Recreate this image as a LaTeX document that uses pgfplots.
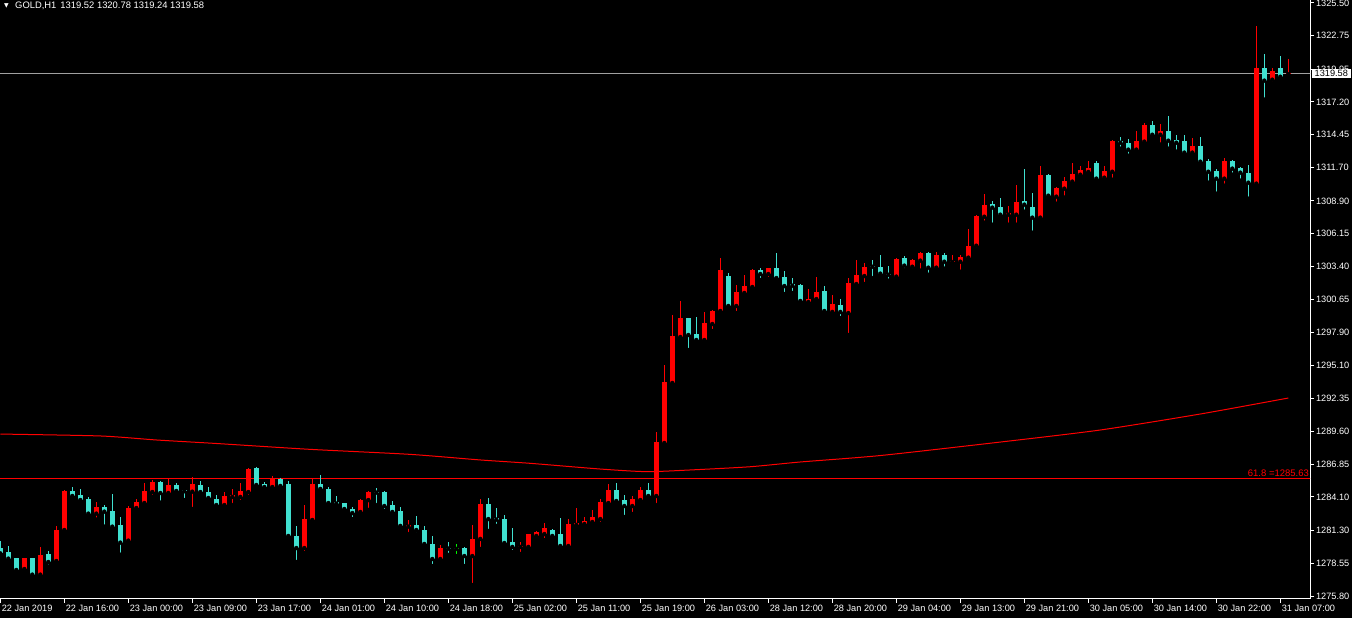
\documentclass[border=0pt]{standalone}
\usepackage{pgfplots}
\pgfplotsset{compat=1.18}
\usepackage{pgfplotstable}
\usepackage{fontspec}
\setmainfont{Liberation Sans}
\newfontfamily\symfont{DejaVu Sans}
\definecolor{bull}{RGB}{255,0,0}
\definecolor{bear}{RGB}{64,224,208}
\definecolor{doji}{RGB}{0,255,0}
\definecolor{pline}{RGB}{160,160,160}

% GOLD H1 candles: i open high low close
\pgfplotstableread{
i o h l c
0 1279.85 1280.41 1279.29 1279.37
1 1279.49 1279.99 1278.87 1278.93
2 1278.98 1278.98 1277.92 1277.98
3 1278.06 1278.98 1277.84 1278.98
4 1278.98 1278.98 1277.50 1277.59
5 1277.59 1279.91 1277.42 1279.24
6 1279.32 1279.57 1278.26 1278.65
7 1278.73 1281.67 1278.57 1281.33
8 1281.33 1284.68 1281.11 1284.60
9 1284.60 1284.93 1283.93 1284.18
10 1284.26 1284.77 1283.76 1283.84
11 1283.93 1284.10 1282.61 1282.70
12 1282.70 1283.68 1282.20 1283.26
13 1283.26 1283.42 1281.61 1282.87
14 1282.92 1284.35 1281.44 1281.61
15 1281.75 1282.42 1279.26 1280.27
16 1280.44 1283.34 1280.35 1283.17
17 1283.17 1283.93 1282.87 1283.68
18 1283.59 1285.27 1283.45 1284.60
19 1284.51 1285.52 1284.10 1285.35
20 1285.35 1285.44 1283.62 1284.43
21 1284.43 1285.60 1284.43 1285.10
22 1285.10 1285.27 1284.46 1284.60
23 1284.62 1284.68 1283.84 1284.58
24 1284.54 1285.77 1283.09 1285.18
25 1285.10 1285.44 1284.35 1284.51
26 1284.51 1284.93 1283.84 1284.01
27 1283.93 1284.26 1283.42 1283.42
28 1283.42 1284.51 1283.34 1284.18
29 1284.10 1284.77 1283.42 1284.26
30 1284.10 1285.27 1283.68 1284.60
31 1284.51 1286.52 1284.10 1286.44
32 1286.52 1286.61 1284.77 1285.10
33 1285.18 1285.35 1284.63 1284.93
34 1284.93 1285.85 1284.93 1285.60
35 1285.60 1285.69 1284.77 1285.02
36 1285.18 1285.44 1280.58 1280.83
37 1280.83 1281.67 1278.65 1279.82
38 1279.82 1283.42 1279.40 1282.25
39 1282.17 1285.69 1281.92 1285.18
40 1285.18 1285.94 1284.43 1284.77
41 1284.77 1284.93 1283.51 1283.59
42 1283.68 1284.18 1283.26 1283.54
43 1283.59 1283.59 1282.92 1283.09
44 1283.09 1283.26 1282.25 1282.75
45 1282.84 1283.93 1282.67 1283.84
46 1283.84 1284.60 1283.01 1284.51
47 1284.51 1284.85 1283.42 1284.46
48 1284.51 1284.60 1282.92 1283.34
49 1283.42 1283.76 1282.75 1282.84
50 1282.92 1283.26 1281.33 1281.67
51 1281.61 1282.17 1280.99 1281.75
52 1281.75 1282.50 1280.99 1281.33
53 1281.33 1281.67 1279.91 1280.16
54 1280.16 1280.83 1278.31 1278.90
55 1278.90 1280.07 1278.57 1279.82
56 1279.81 1280.32 1279.24 1279.77
57 1279.79 1280.16 1279.15 1279.79
58 1279.82 1279.91 1278.31 1279.15
59 1279.15 1281.75 1276.72 1280.58
60 1280.58 1283.93 1279.74 1283.51
61 1283.51 1284.01 1281.25 1282.25
62 1282.34 1283.17 1281.67 1282.20
63 1282.25 1282.59 1279.99 1280.24
64 1280.32 1281.50 1279.49 1279.91
65 1279.91 1280.32 1279.32 1279.99
66 1279.91 1280.99 1279.82 1280.99
67 1280.83 1281.25 1280.66 1281.16
68 1280.99 1281.92 1280.49 1281.50
69 1281.33 1281.41 1280.74 1280.83
70 1280.99 1282.34 1279.91 1279.99
71 1279.99 1282.25 1279.99 1281.83
72 1281.75 1283.17 1281.75 1281.92
73 1281.83 1282.42 1281.58 1282.08
74 1282.00 1283.01 1281.67 1282.42
75 1282.25 1283.93 1281.83 1283.68
76 1283.59 1285.18 1283.34 1284.68
77 1284.68 1285.27 1283.51 1283.76
78 1283.84 1284.26 1282.42 1283.34
79 1283.34 1284.18 1282.67 1283.93
80 1283.84 1284.93 1283.76 1284.68
81 1284.68 1285.27 1284.10 1284.18
82 1284.18 1289.54 1283.42 1288.70
83 1288.62 1295.16 1288.62 1293.73
84 1293.65 1299.34 1293.65 1297.59
85 1297.50 1300.52 1297.42 1299.09
86 1299.09 1299.09 1296.41 1297.67
87 1297.75 1299.18 1297.08 1297.25
88 1297.25 1299.60 1297.25 1298.67
89 1298.59 1299.76 1298.00 1299.68
90 1299.68 1304.12 1299.68 1303.11
91 1302.61 1302.86 1300.01 1300.10
92 1300.10 1301.86 1299.51 1301.27
93 1301.19 1302.70 1300.94 1301.77
94 1301.69 1303.20 1301.44 1303.11
95 1303.11 1303.28 1302.28 1302.78
96 1302.78 1303.28 1302.36 1303.28
97 1303.28 1304.54 1302.28 1302.44
98 1302.53 1303.03 1301.10 1301.77
99 1301.94 1302.44 1301.19 1301.80
100 1301.86 1301.94 1300.35 1300.52
101 1300.43 1301.52 1300.35 1300.68
102 1300.68 1302.53 1300.52 1301.27
103 1301.35 1301.77 1299.60 1299.68
104 1299.60 1301.02 1299.43 1300.27
105 1300.18 1300.68 1299.09 1299.60
106 1299.51 1302.44 1297.67 1302.03
107 1301.94 1303.95 1301.94 1302.70
108 1302.61 1303.70 1301.94 1303.37
109 1303.45 1303.95 1302.44 1303.39
110 1303.37 1304.37 1302.56 1302.81
111 1302.81 1303.45 1302.22 1302.72
112 1302.56 1304.12 1302.47 1304.04
113 1304.12 1304.29 1303.11 1303.48
114 1303.39 1304.04 1303.06 1303.95
115 1303.90 1304.62 1303.06 1304.54
116 1304.54 1304.62 1302.72 1303.31
117 1303.31 1304.62 1303.14 1304.37
118 1304.37 1304.54 1303.23 1303.81
119 1303.78 1304.37 1303.70 1303.87
120 1303.81 1304.37 1302.97 1304.20
121 1304.15 1306.55 1304.06 1305.13
122 1305.15 1307.72 1304.82 1307.64
123 1307.58 1309.48 1307.08 1308.56
124 1308.64 1308.90 1306.91 1308.34
125 1308.39 1309.15 1307.67 1307.75
126 1307.75 1308.48 1306.91 1307.89
127 1307.75 1310.24 1306.91 1308.81
128 1308.90 1311.58 1308.00 1308.59
129 1308.39 1309.57 1306.24 1307.50
130 1307.50 1311.83 1307.50 1311.07
131 1311.07 1311.16 1309.18 1309.34
132 1309.26 1310.07 1308.67 1309.99
133 1309.93 1310.91 1309.18 1310.57
134 1310.52 1312.08 1310.52 1311.16
135 1311.10 1311.83 1310.85 1311.49
136 1311.33 1312.25 1311.10 1311.66
137 1312.08 1312.25 1310.77 1310.77
138 1310.85 1311.83 1310.68 1311.41
139 1311.35 1314.01 1310.68 1313.92
140 1313.92 1314.26 1313.28 1313.78
141 1313.76 1314.09 1312.69 1313.20
142 1313.20 1314.76 1313.11 1313.92
143 1313.87 1315.43 1313.62 1315.26
144 1315.26 1315.60 1314.37 1314.45
145 1314.45 1315.35 1313.62 1314.76
146 1314.76 1316.02 1313.28 1313.95
147 1314.03 1314.43 1313.03 1313.78
148 1313.92 1314.43 1312.95 1312.95
149 1312.95 1314.17 1312.78 1313.50
150 1313.50 1314.26 1312.11 1312.19
151 1312.25 1312.42 1310.43 1311.35
152 1311.41 1311.58 1309.51 1310.77
153 1310.77 1312.50 1310.18 1312.25
154 1312.25 1312.33 1311.10 1311.61
155 1311.66 1311.74 1310.60 1311.27
156 1311.24 1311.91 1309.09 1310.43
157 1310.35 1323.56 1310.10 1320.04
158 1320.04 1321.21 1317.39 1318.98
159 1319.06 1320.04 1318.73 1319.82
160 1320.04 1321.05 1319.23 1319.31
161 1319.52 1320.78 1319.24 1319.58
}\gold

\begin{document}
\begin{tikzpicture}
\fill[black] (0,0) rectangle (1352pt,618pt);
\useasboundingbox (0,0) rectangle (1352pt,618pt);
\begin{axis}[
    at={(0pt,19pt)}, anchor=south west,
    scale only axis, width=1310pt, height=599pt,
    xmin=-0.0375, xmax=163.7125,
    ymin=1275.55, ymax=1325.74,
    axis x line*=bottom, axis y line*=right,
    axis line style={white, line width=1pt},
    tick align=outside, major tick length=4pt,
    tick style={white, line width=1pt},
    xtick={0,8,...,160},
    xticklabels={22 Jan 2019,22 Jan 16:00,23 Jan 00:00,23 Jan 09:00,23 Jan 17:00,
        24 Jan 01:00,24 Jan 10:00,24 Jan 18:00,25 Jan 02:00,25 Jan 11:00,
        25 Jan 19:00,26 Jan 03:00,28 Jan 12:00,28 Jan 20:00,29 Jan 04:00,
        29 Jan 13:00,29 Jan 21:00,30 Jan 05:00,30 Jan 14:00,30 Jan 22:00,31 Jan 07:00},
    ytick={1275.80,1278.55,1281.30,1284.10,1286.85,1289.60,1292.35,1295.10,1297.90,
        1300.65,1303.40,1306.15,1308.90,1311.70,1314.45,1317.20,1319.95,1322.75,1325.50},
    yticklabels={1275.80,1278.55,1281.30,1284.10,1286.85,1289.60,1292.35,1295.10,1297.90,
        1300.65,1303.40,1306.15,1308.90,1311.70,1314.45,1317.20,1319.95,1322.75,1325.50},
    tick label style={font=\fontsize{9.2}{10}\selectfont, text=white},
    xticklabel style={anchor=north west, xshift=-2pt, yshift=1pt},
    yticklabel style={anchor=west, xshift=-1.5pt},
    clip mode=individual,
    unbounded coords=discard,
]

% reference lines
\addplot[pline, line width=1pt] coordinates {(-1,1319.58) (170,1319.58)};
\addplot[red, line width=1pt] coordinates {(-1,1285.63) (170,1285.63)};

% moving average
\addplot[red, line width=1pt, smooth, tension=0.4] coordinates {
    (0,1289.37) (12.5,1289.21) (19.6,1288.87) (27,1288.58) (38.7,1288.09)
    (51.2,1287.67) (60,1287.20) (66.2,1286.92) (75,1286.44) (80.8,1286.22)
    (86.2,1286.36) (93.7,1286.63) (100,1287.03) (110,1287.57) (125,1288.70)
    (137.5,1289.71) (150,1291.05) (161,1292.39)
};

% up candles (red)
\addplot[only marks, mark=none,
    restrict expr to domain={\thisrow{c}-\thisrow{o}}{0.001:100},
    error bars/.cd, y dir=plus, y explicit, error mark=none,
    error bar style={draw=bull, line width=1pt}]
    table[x=i, y=l, y error plus expr={\thisrow{h}-\thisrow{l}}] {\gold};
\addplot[only marks, mark=none,
    restrict expr to domain={\thisrow{c}-\thisrow{o}}{0.001:100},
    error bars/.cd, y dir=plus, y explicit, error mark=none,
    error bar style={draw=bull, line width=5pt}]
    table[x=i, y=o, y error plus expr={max(\thisrow{c}-\thisrow{o},0.09)}] {\gold};

% down candles (turquoise)
\addplot[only marks, mark=none,
    restrict expr to domain={\thisrow{c}-\thisrow{o}}{-100:-0.001},
    error bars/.cd, y dir=plus, y explicit, error mark=none,
    error bar style={draw=bear, line width=1pt}]
    table[x=i, y=l, y error plus expr={\thisrow{h}-\thisrow{l}}] {\gold};
\addplot[only marks, mark=none,
    restrict expr to domain={\thisrow{c}-\thisrow{o}}{-100:-0.001},
    error bars/.cd, y dir=plus, y explicit, error mark=none,
    error bar style={draw=bear, line width=5pt}]
    table[x=i, y=c, y error plus expr={max(\thisrow{o}-\thisrow{c},0.09)}] {\gold};

% doji (open = close)
\addplot[only marks, mark=none,
    restrict expr to domain={\thisrow{c}-\thisrow{o}}{-0.001:0.001},
    error bars/.cd, y dir=plus, y explicit, error mark=none,
    error bar style={draw=doji, line width=1pt}]
    table[x=i, y=l, y error plus expr={\thisrow{h}-\thisrow{l}}] {\gold};
\addplot[only marks, mark=none,
    restrict expr to domain={\thisrow{c}-\thisrow{o}}{-0.001:0.001},
    error bars/.cd, y dir=plus, y explicit, error mark=none,
    error bar style={draw=doji, line width=5pt}]
    table[x=i, y expr={\thisrow{o}-0.045}, y error plus expr={0.09}] {\gold};

% labels
\node[anchor=base east, text=red, font=\fontsize{9.5}{10}\selectfont, inner sep=0pt, yshift=2pt]
    at (axis cs:163.6,1285.63) {61.8 =1285.63};
\node[anchor=west, fill=white, text=black, font=\fontsize{9.2}{10}\selectfont,
    inner xsep=3pt, inner ysep=1pt, xshift=1.5pt]
    at (axis cs:163.7125,1319.58) {1319.58};
\node[anchor=west, text=white, font=\fontsize{9.4}{10}\selectfont, inner sep=0pt,
    xshift=15pt, yshift=-6pt] at (rel axis cs:0,1)
    {GOLD,H1\hspace{4pt}1319.52 1320.78 1319.24 1319.58};
\node[text=white, font=\symfont\fontsize{6}{6}\selectfont, inner sep=0pt,
    xshift=6.5pt, yshift=-6pt] at (rel axis cs:0,1) {▼};
\end{axis}
\end{tikzpicture}
\end{document}
